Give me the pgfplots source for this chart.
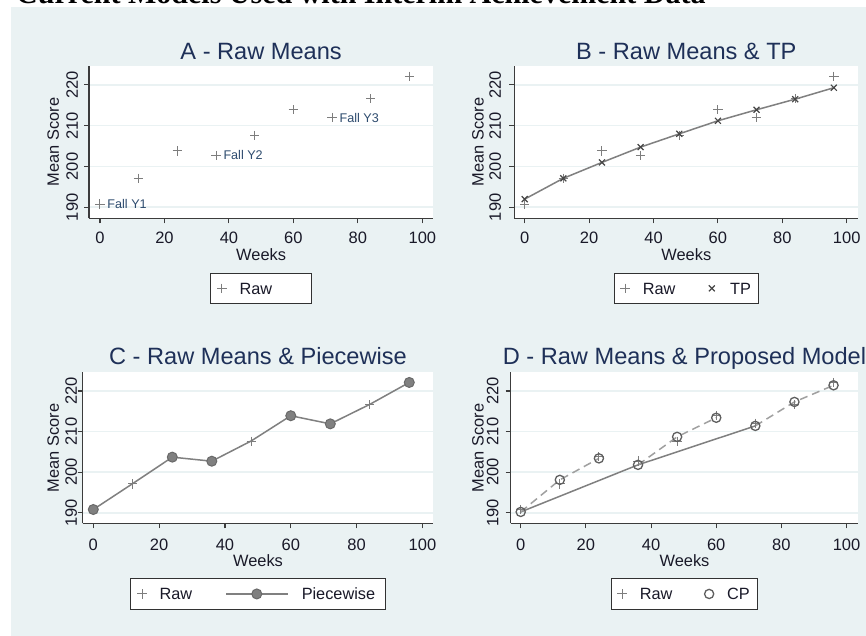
\documentclass[border=0pt]{standalone}
\usepackage{fontspec}
\setmainfont{Liberation Sans}
\newfontfamily\titleserif{Liberation Serif}
\usepackage{pgfplots}
\usepackage{pgfplotstable}
\pgfplotsset{compat=1.18}

\definecolor{bgcol}{RGB}{234,242,243}
\definecolor{gridcol}{RGB}{234,242,243}
\definecolor{axiscol}{RGB}{60,60,60}
\definecolor{tickcol}{RGB}{25,25,40}
\definecolor{titlecol}{RGB}{30,48,88}
\definecolor{fallcol}{RGB}{45,75,110}
\definecolor{rawcol}{RGB}{125,125,125}
\definecolor{tpcol}{RGB}{70,70,70}
\definecolor{linecol}{RGB}{128,128,128}
\definecolor{circfill}{RGB}{128,128,128}
\definecolor{circdraw}{RGB}{105,105,105}
\definecolor{cpcol}{RGB}{95,95,95}
\definecolor{dashcol}{RGB}{160,160,160}
\definecolor{legborder}{RGB}{50,50,50}

\pgfplotstableread{
x y
0 190.8
12 197.1
24 203.8
36 202.7
48 207.6
60 213.9
72 212.0
84 216.6
96 222.1
}\rawdata

\pgfplotstableread{
x y
0 192.0
12 197.1
24 201.0
36 204.75
48 208.0
60 211.2
72 213.9
84 216.5
96 219.3
}\tpdata

\pgfplotstableread{
x y
0 190.8
12 197.2
24 203.7
36 202.7
48 207.7
60 213.9
72 211.9
84 216.7
96 222.1
}\pwdata

\pgfplotstableread{
x y
0 190.2
12 198.1
24 203.4
36 201.8
48 208.7
60 213.4
72 211.4
84 217.3
96 221.4
}\cpdata

\newcommand\labfont{\fontsize{16.4}{18}\selectfont}

\pgfplotsset{
  panel/.style={
    scale only axis,
    clip=false,
    axis x line*=bottom, axis y line*=left,
    axis line style={draw=axiscol, line width=1.2pt},
    tick align=outside, major tick length=5pt,
    tick style={draw=axiscol, line width=1.1pt},
    xtick={0,20,...,100}, ytick={190,200,210,220},
    ymajorgrids, grid style={draw=gridcol, line width=1.6pt},
    axis background/.style={fill=white},
    /pgf/number format/assume math mode=true,
    ticklabel style={font=\fontsize{16.5}{18}\selectfont, text=tickcol},
    yticklabel style={rotate=90, anchor=south, inner sep=0pt},
    xticklabel style={anchor=base, inner sep=0pt},
    xlabel={Weeks}, ylabel={Mean Score},
    legend cell align=left,
    legend style={at={(axis description cs:0.5,0)}, anchor=north,
      draw=legborder, line width=1pt, fill=white,
      inner xsep=0pt, inner ysep=0pt, legend columns=-1,
      font=\fontsize{16.3}{19}\selectfont, text=tickcol,
      nodes={inner sep=0pt, text height=21pt, text depth=9.3pt}},
  },
  titley/.style={every axis title/.style={at={(axis description cs:0.5,1)}, anchor=base, yshift=#1,
      font=\fontsize{23.6}{28}\selectfont, text=titlecol}},
  xlaby/.style={every axis x label/.style={at={(axis description cs:0.5,0)}, anchor=base, yshift=#1, font=\labfont, text=tickcol}},
  ylabx/.style={every axis y label/.style={at={(axis description cs:0,0.5)}, xshift=#1, rotate=90, anchor=center, inner sep=0pt, font=\labfont, text=tickcol}},
  legy/.style={legend style={yshift=#1}},
  markimg/.style 2 args={legend image code/.code={\path (-#1,0pt) (#2,0pt); \draw[##1] plot coordinates {(0pt,0pt)};}},
  pwimg/.style={legend image code/.code={\path (-40.8pt,0pt) (44.2pt,0pt); \draw[##1, mark=none] (-30.8pt,0pt) -- (30.9pt,0pt); \draw[##1] plot coordinates {(0pt,0pt)};}},
  rawstyle/.style={only marks, mark=+, mark size=4.7pt, color=rawcol, line width=1pt},
}

\begin{document}
\begin{tikzpicture}
\useasboundingbox (0pt,0pt) rectangle (866pt,-636pt);
\clip (0pt,0pt) rectangle (866pt,-636pt);
\fill[white] (0pt,0pt) rectangle (866pt,-636pt);
\fill[bgcol] (10.7pt,-6.7pt) rectangle (866pt,-636pt);
\node[anchor=base west, inner sep=0pt, font=\titleserif\bfseries\fontsize{30}{36}\selectfont] at (16pt,-3.2pt) {Current Models Used with Interim Achievement Data};

% Panel A
\begin{axis}[panel, at={(89pt,-65.7pt)}, anchor=north west,
  width=344.3pt, height=152.6pt,
  xmin=-3.41, xmax=103.4, ymin=187.3, ymax=224.7,
  title={A - Raw Means}, titley=6.4pt, xlaby=-41.7pt, ylabx=-35.7pt, legy=-54.4pt,
  yticklabel shift=5.7pt, xticklabel shift=20pt]
\addplot[rawstyle, markimg={11pt}{17.3pt}] table[x=x,y=y]{\rawdata};
\addlegendentry{\makebox[72.3pt][l]{Raw}}
\node[anchor=west, xshift=7.3pt, inner sep=0pt, font=\fontsize{12.6}{14}\selectfont, text=fallcol] at (axis cs:0,190.8) {Fall Y1};
\node[anchor=west, xshift=7.3pt, inner sep=0pt, font=\fontsize{12.6}{14}\selectfont, text=fallcol] at (axis cs:36,202.7) {Fall Y2};
\node[anchor=west, xshift=7.3pt, inner sep=0pt, font=\fontsize{12.6}{14}\selectfont, text=fallcol] at (axis cs:72,212.0) {Fall Y3};
\end{axis}

% Panel B
\begin{axis}[panel, at={(514.3pt,-65.7pt)}, anchor=north west,
  width=344pt, height=152.6pt,
  xmin=-3.23, xmax=103.6, ymin=187.3, ymax=224.7,
  title={B - Raw Means \& TP}, titley=6.4pt, xlaby=-41.7pt, ylabx=-36.3pt, legy=-54.4pt,
  yticklabel shift=8pt, xticklabel shift=20pt]
\addplot[linecol, line width=1.5pt, mark=none, forget plot] table[x=x,y=y]{\tpdata};
\addplot[rawstyle, markimg={10.4pt}{17.3pt}] table[x=x,y=y]{\rawdata};
\addlegendentry{\makebox[57.9pt][l]{Raw}}
\addplot[only marks, mark=x, mark size=4.2pt, color=tpcol, line width=1.2pt, markimg={10.4pt}{17.7pt}] table[x=x,y=y]{\tpdata};
\addlegendentry{\makebox[28.3pt][l]{TP}}
\end{axis}

% Panel C
\begin{axis}[panel, at={(82.7pt,-372.3pt)}, anchor=north west,
  width=350.6pt, height=151pt,
  xmin=-3.22, xmax=103.3, ymin=187.4, ymax=224.6,
  title={C - Raw Means \& Piecewise}, titley=8.3pt, xlaby=-43.4pt, ylabx=-29.4pt, legy=-55pt,
  yticklabel shift=0.4pt, xticklabel shift=21.7pt]
\addplot[rawstyle, markimg={11.3pt}{17pt}] table[x=x,y=y]{\rawdata};
\addlegendentry{\makebox[55.7pt][l]{Raw}}
\addplot[linecol, line width=1.5pt, mark=*, mark indices={1,3,4,6,7,9}, mark size=5pt,
  mark options={fill=circfill, draw=circdraw, line width=1pt}, pwimg]
  table[x=x,y=y]{\pwdata};
\addlegendentry{\makebox[84pt][l]{Piecewise}}
\end{axis}

% Panel D
\begin{axis}[panel, at={(510.7pt,-372.3pt)}, anchor=north west,
  width=347.6pt, height=151pt,
  xmin=-3.07, xmax=103.6, ymin=187.4, ymax=224.6,
  title={D - Raw Means \& Proposed Model}, titley=8.3pt, xlaby=-43.4pt, ylabx=-32.7pt, legy=-55pt,
  yticklabel shift=7pt, xticklabel shift=21.7pt]
\addplot[linecol, line width=1.5pt, mark=none, forget plot] coordinates {(0,190.2) (36,201.8) (72,211.4)};
\addplot[dashcol, line width=1.5pt, mark=none, dash pattern=on 8pt off 5pt, forget plot] coordinates {(0,190.2) (12,198.1) (24,203.4)};
\addplot[dashcol, line width=1.5pt, mark=none, dash pattern=on 8pt off 5pt, forget plot] coordinates {(36,201.8) (48,208.7) (60,213.4)};
\addplot[dashcol, line width=1.5pt, mark=none, dash pattern=on 8pt off 5pt, forget plot] coordinates {(72,211.4) (84,217.3) (96,221.4)};
\addplot[rawstyle, markimg={10.3pt}{17.4pt}] table[x=x,y=y]{\rawdata};
\addlegendentry{\makebox[58.3pt][l]{Raw}}
\addplot[only marks, mark=o, mark size=4.6pt, color=cpcol, line width=1.3pt, markimg={10.3pt}{17.4pt}] table[x=x,y=y]{\cpdata};
\addlegendentry{\makebox[30.6pt][l]{CP}}
\end{axis}
\end{tikzpicture}
\end{document}
